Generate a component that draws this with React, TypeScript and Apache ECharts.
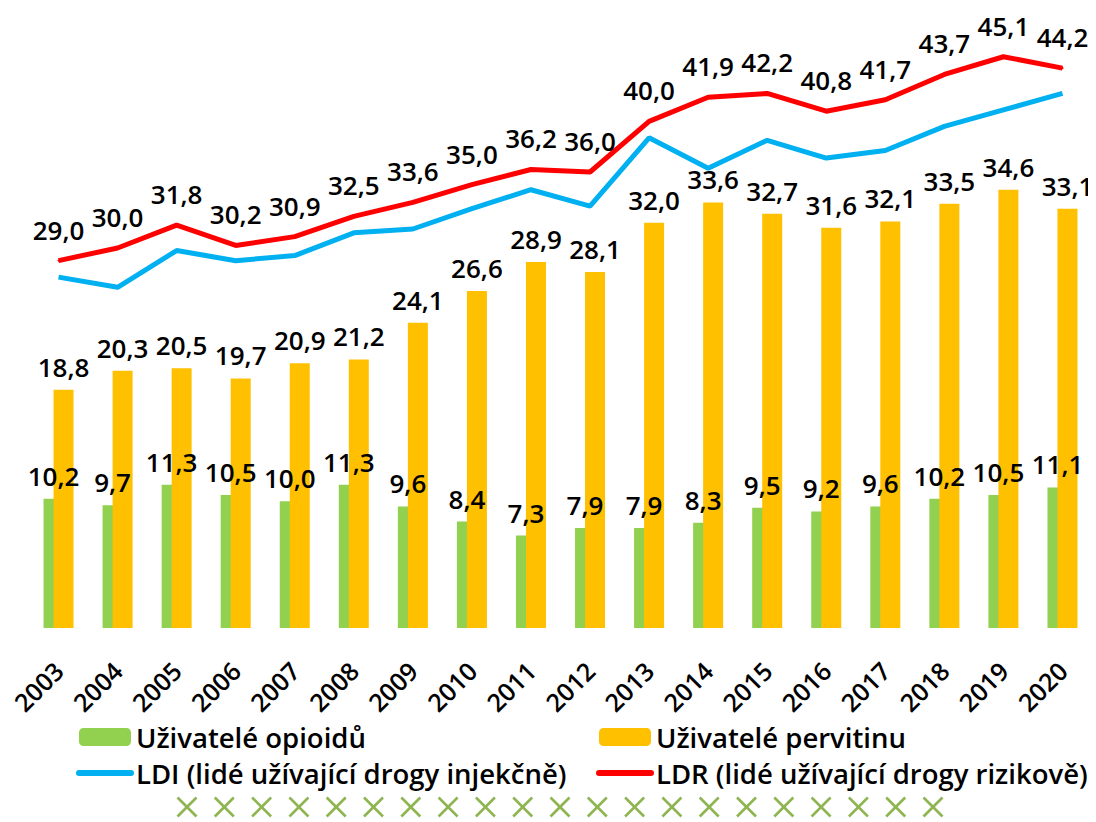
import React, { useEffect, useRef } from "react";
import * as echarts from "echarts";

const years = ["2003","2004","2005","2006","2007","2008","2009","2010","2011","2012","2013","2014","2015","2016","2017","2018","2019","2020"];
const opioids = [10.2,9.7,11.3,10.5,10.0,11.3,9.6,8.4,7.3,7.9,7.9,8.3,9.5,9.2,9.6,10.2,10.5,11.1];
const pervitin = [18.8,20.3,20.5,19.7,20.9,21.2,24.1,26.6,28.9,28.1,32.0,33.6,32.7,31.6,32.1,33.5,34.6,33.1];
const ldi = [27.7,26.9,29.8,29.0,29.4,31.2,31.5,33.1,34.6,33.3,38.7,36.3,38.5,37.1,37.7,39.6,40.9,42.2];
const ldr = [29.0,30.0,31.8,30.2,30.9,32.5,33.6,35.0,36.2,36.0,40.0,41.9,42.2,40.8,41.7,43.7,45.1,44.2];

const names = [
  "Uživatelé opioidů",
  "Uživatelé pervitinu",
  "LDI (lidé užívající drogy injekčně)",
  "LDR (lidé užívající drogy rizikově)",
];

const FONT = "'Open Sans', 'Noto Sans', sans-serif";
const fmt = (p: any) => Number(p.value).toFixed(1).replace(".", ",");

export default function App() {
  const ref = useRef<HTMLDivElement>(null);
  useEffect(() => {
    if (!ref.current) return;
    const chart = echarts.init(ref.current, undefined, { renderer: "svg" });
    const crosses: any[] = [];
    const nCross = 21;
    for (let i = 0; i < nCross; i++) {
      const cx = 187 + i * 37.3;
      const cy = 807;
      const s = 9.5;
      const st = { stroke: "#8fb552", lineWidth: 2.6 };
      crosses.push({ type: "line", shape: { x1: cx - s, y1: cy - s, x2: cx + s, y2: cy + s }, style: st, silent: true });
      crosses.push({ type: "line", shape: { x1: cx - s, y1: cy + s, x2: cx + s, y2: cy - s }, style: st, silent: true });
    }
    const labelStyle = {
      show: true,
      position: "top",
      formatter: fmt,
      color: "#000",
      fontFamily: FONT,
      fontWeight: 600,
      fontSize: 26,
    };
    const legendText = { fontSize: 27.5, fontWeight: 600, color: "#000", fontFamily: FONT, lineHeight: 18 };
    const lineLegend = (n: string) => ({
      name: n,
      itemStyle: { opacity: 0 },
      lineStyle: { width: 6, cap: "round" },
    });
    chart.setOption({
      animation: false,
      textStyle: { fontFamily: FONT },
      grid: { left: 29, right: 4, top: 20, bottom: 194, containLabel: false },
      xAxis: {
        type: "category",
        data: years,
        axisLine: { show: false },
        axisTick: { show: false },
        axisLabel: {
          rotate: 45,
          margin: 38,
          color: "#000",
          fontFamily: FONT,
          fontWeight: 600,
          fontSize: 25,
          interval: 0,
        },
      },
      yAxis: {
        type: "value",
        min: 0,
        max: 48,
        show: false,
        splitLine: { show: false },
      },
      legend: [
        {
          left: 71,
          top: 718,
          orient: "vertical",
          itemWidth: 52,
          itemHeight: 18,
          itemGap: 8,
          textStyle: legendText,
          data: [names[0], lineLegend(names[2])],
        },
        {
          left: 591,
          top: 718,
          orient: "vertical",
          itemWidth: 52,
          itemHeight: 18,
          itemGap: 8,
          textStyle: legendText,
          data: [names[1], lineLegend(names[3])],
        },
      ],
      graphic: [
        {
          type: "text",
          left: 0,
          top: 442,
          style: { text: ")", fill: "#a6a6a6", fontSize: 22, fontStyle: "italic", fontFamily: FONT },
          silent: true,
        },
        { type: "group", silent: true, children: crosses },
      ],
      series: [
        {
          name: names[0],
          type: "bar",
          data: opioids,
          barWidth: 20,
          barGap: "-50%",
          itemStyle: { color: "#92d050" },
          label: { ...labelStyle, distance: 10 },
        },
        {
          name: names[1],
          type: "bar",
          data: pervitin,
          barWidth: 20,
          barGap: "-50%",
          itemStyle: { color: "#ffc000" },
          label: { ...labelStyle, distance: 10 },
        },
        {
          name: names[2],
          type: "line",
          data: ldi,
          symbol: "none",
          lineStyle: { color: "#00b0f0", width: 5 },
          itemStyle: { color: "#00b0f0" },
        },
        {
          name: names[3],
          type: "line",
          data: ldr,
          symbol: "circle",
          symbolSize: 2,
          showSymbol: true,
          lineStyle: { color: "#ff0000", width: 5 },
          itemStyle: { color: "#ff0000" },
          label: { ...labelStyle, distance: 17 },
          labelLayout: { hideOverlap: false },
        },
      ],
    });
    return () => chart.dispose();
  }, []);
  return <div ref={ref} style={{ width: 1096, height: 822, marginLeft: -8, marginTop: -8 }} />;
}
